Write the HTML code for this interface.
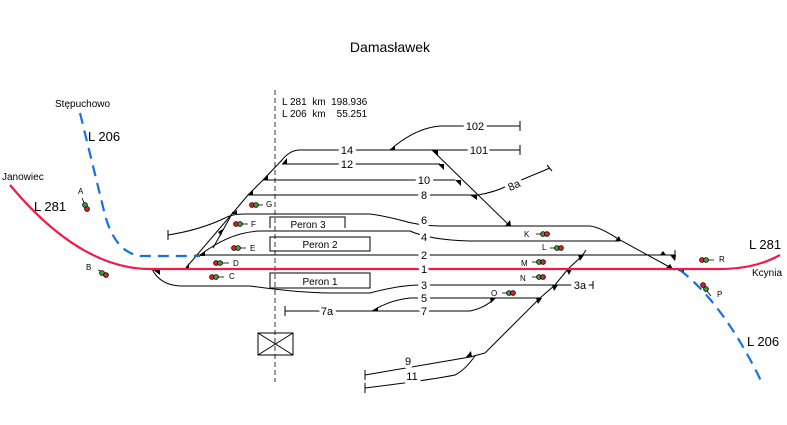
<!DOCTYPE html>
<html><head><meta charset="utf-8"><style>
html,body{margin:0;padding:0;background:#fff;}
svg{display:block;font-family:"Liberation Sans",sans-serif;}
.lb text{paint-order:stroke;stroke:#fff;stroke-width:7px;stroke-linejoin:round;}
</style></head><body>
<svg width="787" height="425" viewBox="0 0 787 425" xmlns="http://www.w3.org/2000/svg">
<rect width="787" height="425" fill="#fff"/>
<text x="390" y="52" font-size="14" text-anchor="middle">Damasławek</text>
<line x1="275" y1="90" x2="275" y2="382" stroke="#000" stroke-width="0.8" stroke-dasharray="5,3"/>
<text x="282" y="105" font-size="10" style="white-space:pre">L 281  km  198.936</text>
<text x="282" y="117" font-size="10" style="white-space:pre">L 206  km    55.251</text>
<g fill="none" stroke="#000" stroke-width="1">
<path d="M185,269 L232,214 L248,195 L263,180 L282,160 Q290,150 300,150"/>
<path d="M213,248 L233,212"/>
<path d="M300,150 H520 M520,145 V155"/>
<path d="M390,150 Q415,128 440,126 H520 M520,121 V131"/>
<path d="M282,164 H440"/>
<path d="M263,180 H455"/>
<path d="M248,195 H478"/>
<path d="M478,195 Q495,192 507,186 L550,168 M547,165 L552,171"/>
<path d="M168,235 Q200,230 225,218 Q232,214 245,214 H370 Q385,216 400,220 Q420,226 440,226 H590 Q600,227 620,240 L675,270"/>
<path d="M168,230 V240"/>
<path d="M200,255 Q230,232 260,231 H410 Q430,240 470,241 H620"/>
<path d="M195,255 H675 M675,250 V260"/>
<path d="M432,150 L510,226"/>
<path d="M152,269 Q160,285 180,286 H250 Q300,293 330,293 H370 Q400,285 420,285 H588 M593,281 V289 M588,285 H593"/>
<path d="M372,311 Q390,300 410,298 H540"/>
<path d="M285,311 H470 Q485,308 495,298 M285,306 V316"/>
<path d="M485,353 L520,318 L540,298 L555,285 L568,269 L582,256 L586,250"/>
<path d="M365,375 L470,357 L485,353 M365,370 V380"/>
<path d="M365,388 Q430,380 455,375 Q465,370 475,356 M365,383 V393"/>
<path d="M270,228 V217 H345 V228"/>
<rect x="270" y="237" width="100" height="14"/>
<rect x="270" y="273" width="100" height="15"/>
<rect x="258" y="333" width="35" height="22"/>
<path d="M258,333 L293,355 M293,333 L258,355"/>
</g>
<g fill="#000">
<path d="M152,269 l8,0 l0,6z M185,269 l4,-6 l0,6z M200,256 l5,-5 l0,5z M218,232 l5,-3 l-2,7z M232,214 l5,-4 l0,4z M248,195 l5,-5 l0,5z M263,180 l5,-5 l0,5z M282,164 l5,-6 l0,6z"/>
<path d="M390,150 l5,-4 l0,4z M432,150 l6,0 l0,6z M438,164 l6,0 l0,6z M455,180 l6,0 l0,6z M470,195 l7,0 l0,5z M505,226 l6,0 l-1,-6z"/>
<path d="M615,241 l6,0 l-2,-5z M660,255 l6,0 l-3,-4z M670,255 l6,0 l-1,6z M665,269 l8,0 l-3,-5z M676,269 l8,0 l0,5z"/>
<path d="M578,255 l6,0 l-4,6z M566,269 l6,0 l-3,6z M552,285 l6,0 l-4,6z M536,298 l6,0 l-4,6z M490,298 l6,0 l-5,5z M372,311 l6,0 l0,-4z M472,357 l-6,0 l5,-6z"/>
</g>
<path d="M10,185 Q80,269 150,269 H720 Q755,269 780,255" fill="none" stroke="#ee1c4a" stroke-width="2.2"/>
<path d="M80,113 L105,215 Q115,252 140,256 L200,256" fill="none" stroke="#1570e8" stroke-width="2.2" stroke-dasharray="11,7"/>
<path d="M680,270 Q725,305 763,385" fill="none" stroke="#1570e8" stroke-width="2.2" stroke-dasharray="11,7"/>
<g class="lb" font-size="11" text-anchor="middle">
<text x="347" y="154">14</text><text x="347" y="168">12</text>
<text x="424" y="184">10</text><text x="424" y="199">8</text>
<text x="424" y="224">6</text><text x="424" y="241">4</text>
<text x="424" y="259">2</text><text x="424" y="273">1</text>
<text x="424" y="289">3</text><text x="424" y="302">5</text>
<text x="424" y="315">7</text><text x="327" y="315">7a</text>
<text x="475" y="130">102</text><text x="479" y="154">101</text>
<text x="514" y="189" transform="rotate(-25 514 185)">8a</text>
<text x="580" y="289">3a</text>
<text x="408" y="365">9</text><text x="412" y="380">11</text>
</g>
<g font-size="10" text-anchor="middle">
<text x="308" y="228">Peron 3</text><text x="320" y="248">Peron 2</text><text x="320" y="285">Peron 1</text>
</g>
<g font-size="10">
<text x="55" y="107">Stępuchowo</text><text x="2" y="180">Janowiec</text><text x="752" y="276">Kcynia</text>
</g>
<g font-size="13">
<text x="88" y="141">L 206</text><text x="34" y="211">L 281</text><text x="749" y="249">L 281</text><text x="747" y="346">L 206</text>
</g>
<g font-size="8">
<text x="78" y="194">A</text><text x="86" y="270">B</text>
<text x="229" y="279">C</text><text x="233" y="266">D</text><text x="250" y="251">E</text>
<text x="251" y="227">F</text><text x="266" y="207">G</text>
<text x="524" y="237">K</text><text x="542" y="250">L</text><text x="521" y="266">M</text>
<text x="520" y="281">N</text><text x="491" y="296">O</text><text x="717" y="297">P</text><text x="719" y="262">R</text>
</g>
<g stroke="#000" stroke-width="0.8">
<line x1="82" y1="198" x2="85" y2="205"/><circle cx="85" cy="205" r="2.4" fill="#3a9a3a"/><circle cx="87" cy="209" r="2.4" fill="#e02020"/>
<line x1="98" y1="270" x2="103" y2="272"/><circle cx="102" cy="273" r="2.4" fill="#3a9a3a"/><circle cx="106" cy="275" r="2.4" fill="#e02020"/>
<circle cx="212" cy="277" r="2.4" fill="#e02020"/><circle cx="216" cy="277" r="2.4" fill="#3a9a3a"/><line x1="218" y1="277" x2="224" y2="277"/>
<circle cx="216" cy="263" r="2.4" fill="#e02020"/><circle cx="220" cy="263" r="2.4" fill="#3a9a3a"/><line x1="222" y1="263" x2="229" y2="263"/>
<circle cx="234" cy="248" r="2.4" fill="#e02020"/><circle cx="238" cy="248" r="2.4" fill="#3a9a3a"/><line x1="240" y1="248" x2="246" y2="248"/>
<circle cx="236" cy="224" r="2.4" fill="#e02020"/><circle cx="240" cy="224" r="2.4" fill="#3a9a3a"/><line x1="242" y1="224" x2="248" y2="224"/>
<circle cx="252" cy="205" r="2.4" fill="#e02020"/><circle cx="256" cy="205" r="2.4" fill="#3a9a3a"/><line x1="258" y1="205" x2="263" y2="205"/>
<line x1="536" y1="234" x2="542" y2="234"/><circle cx="543" cy="234" r="2.4" fill="#3a9a3a"/><circle cx="547" cy="234" r="2.4" fill="#e02020"/>
<line x1="550" y1="248" x2="556" y2="248"/><circle cx="557" cy="248" r="2.4" fill="#3a9a3a"/><circle cx="561" cy="248" r="2.4" fill="#e02020"/>
<line x1="532" y1="262" x2="538" y2="262"/><circle cx="539" cy="262" r="2.4" fill="#3a9a3a"/><circle cx="543" cy="262" r="2.4" fill="#e02020"/>
<line x1="532" y1="277" x2="538" y2="277"/><circle cx="539" cy="277" r="2.4" fill="#3a9a3a"/><circle cx="543" cy="277" r="2.4" fill="#e02020"/>
<line x1="502" y1="293" x2="508" y2="293"/><circle cx="509" cy="293" r="2.4" fill="#3a9a3a"/><circle cx="513" cy="293" r="2.4" fill="#e02020"/>
<circle cx="702" cy="260" r="2.4" fill="#e02020"/><circle cx="706" cy="260" r="2.4" fill="#3a9a3a"/><line x1="708" y1="260" x2="714" y2="260"/>
<circle cx="703" cy="285" r="2.4" fill="#e02020"/><circle cx="706" cy="289" r="2.4" fill="#3a9a3a"/><line x1="707" y1="291" x2="711" y2="296"/>
</g>
</svg>
</body></html>
